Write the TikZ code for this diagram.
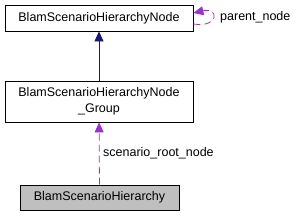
\documentclass[tikz,border=0pt]{standalone}
\usepackage{fontspec}
\setmainfont{Liberation Sans}
\usetikzlibrary{arrows.meta, positioning}
\definecolor{edgeBlue}{RGB}{25,25,112}
\definecolor{usePurple}{RGB}{154,50,205}
\definecolor{curGray}{RGB}{191,191,191}

\begin{document}
\begin{tikzpicture}[x=1pt, y=-1pt,
    cls/.style={rectangle, draw=black, thick, align=center, font=\fontsize{12.5}{15.5}\selectfont, inner sep=0pt},
    inherit/.style={-{Triangle[length=10pt, width=9pt]}, edgeBlue, thick},
    usage/.style={-{Triangle[length=10pt, width=9pt]}, usePurple, thick, dashed, dash pattern=on 7pt off 4pt},
    lbl/.style={font=\fontsize{12.5}{14}\selectfont, inner sep=0pt}
]
\useasboundingbox (0,0) rectangle (299,217);

% Classes
\node[cls, minimum width=188pt, minimum height=26pt] (node) at (99,18) {BlamScenarioHierarchyNode};
\node[cls, minimum width=188pt, minimum height=41pt] (group) at (99,101.5) {BlamScenarioHierarchyNode\\\_Group};
\node[cls, fill=curGray, minimum width=159pt, minimum height=25pt] (hier) at (99.5,197.5) {BlamScenarioHierarchy};

% Relations
\draw[inherit] (group) -- (node);
\draw[usage] (hier) -- (group);
\draw[usage] ([yshift=-6pt]node.east) .. controls ++(26,4) and ++(26,-6) .. ([yshift=5pt]node.east);

% Labels
\node[lbl, anchor=west] (parent) at (220,17) {parent\_node};
\node[lbl, anchor=west] (root) at (103,153) {scenario\_root\_node};

\end{tikzpicture}
\end{document}
